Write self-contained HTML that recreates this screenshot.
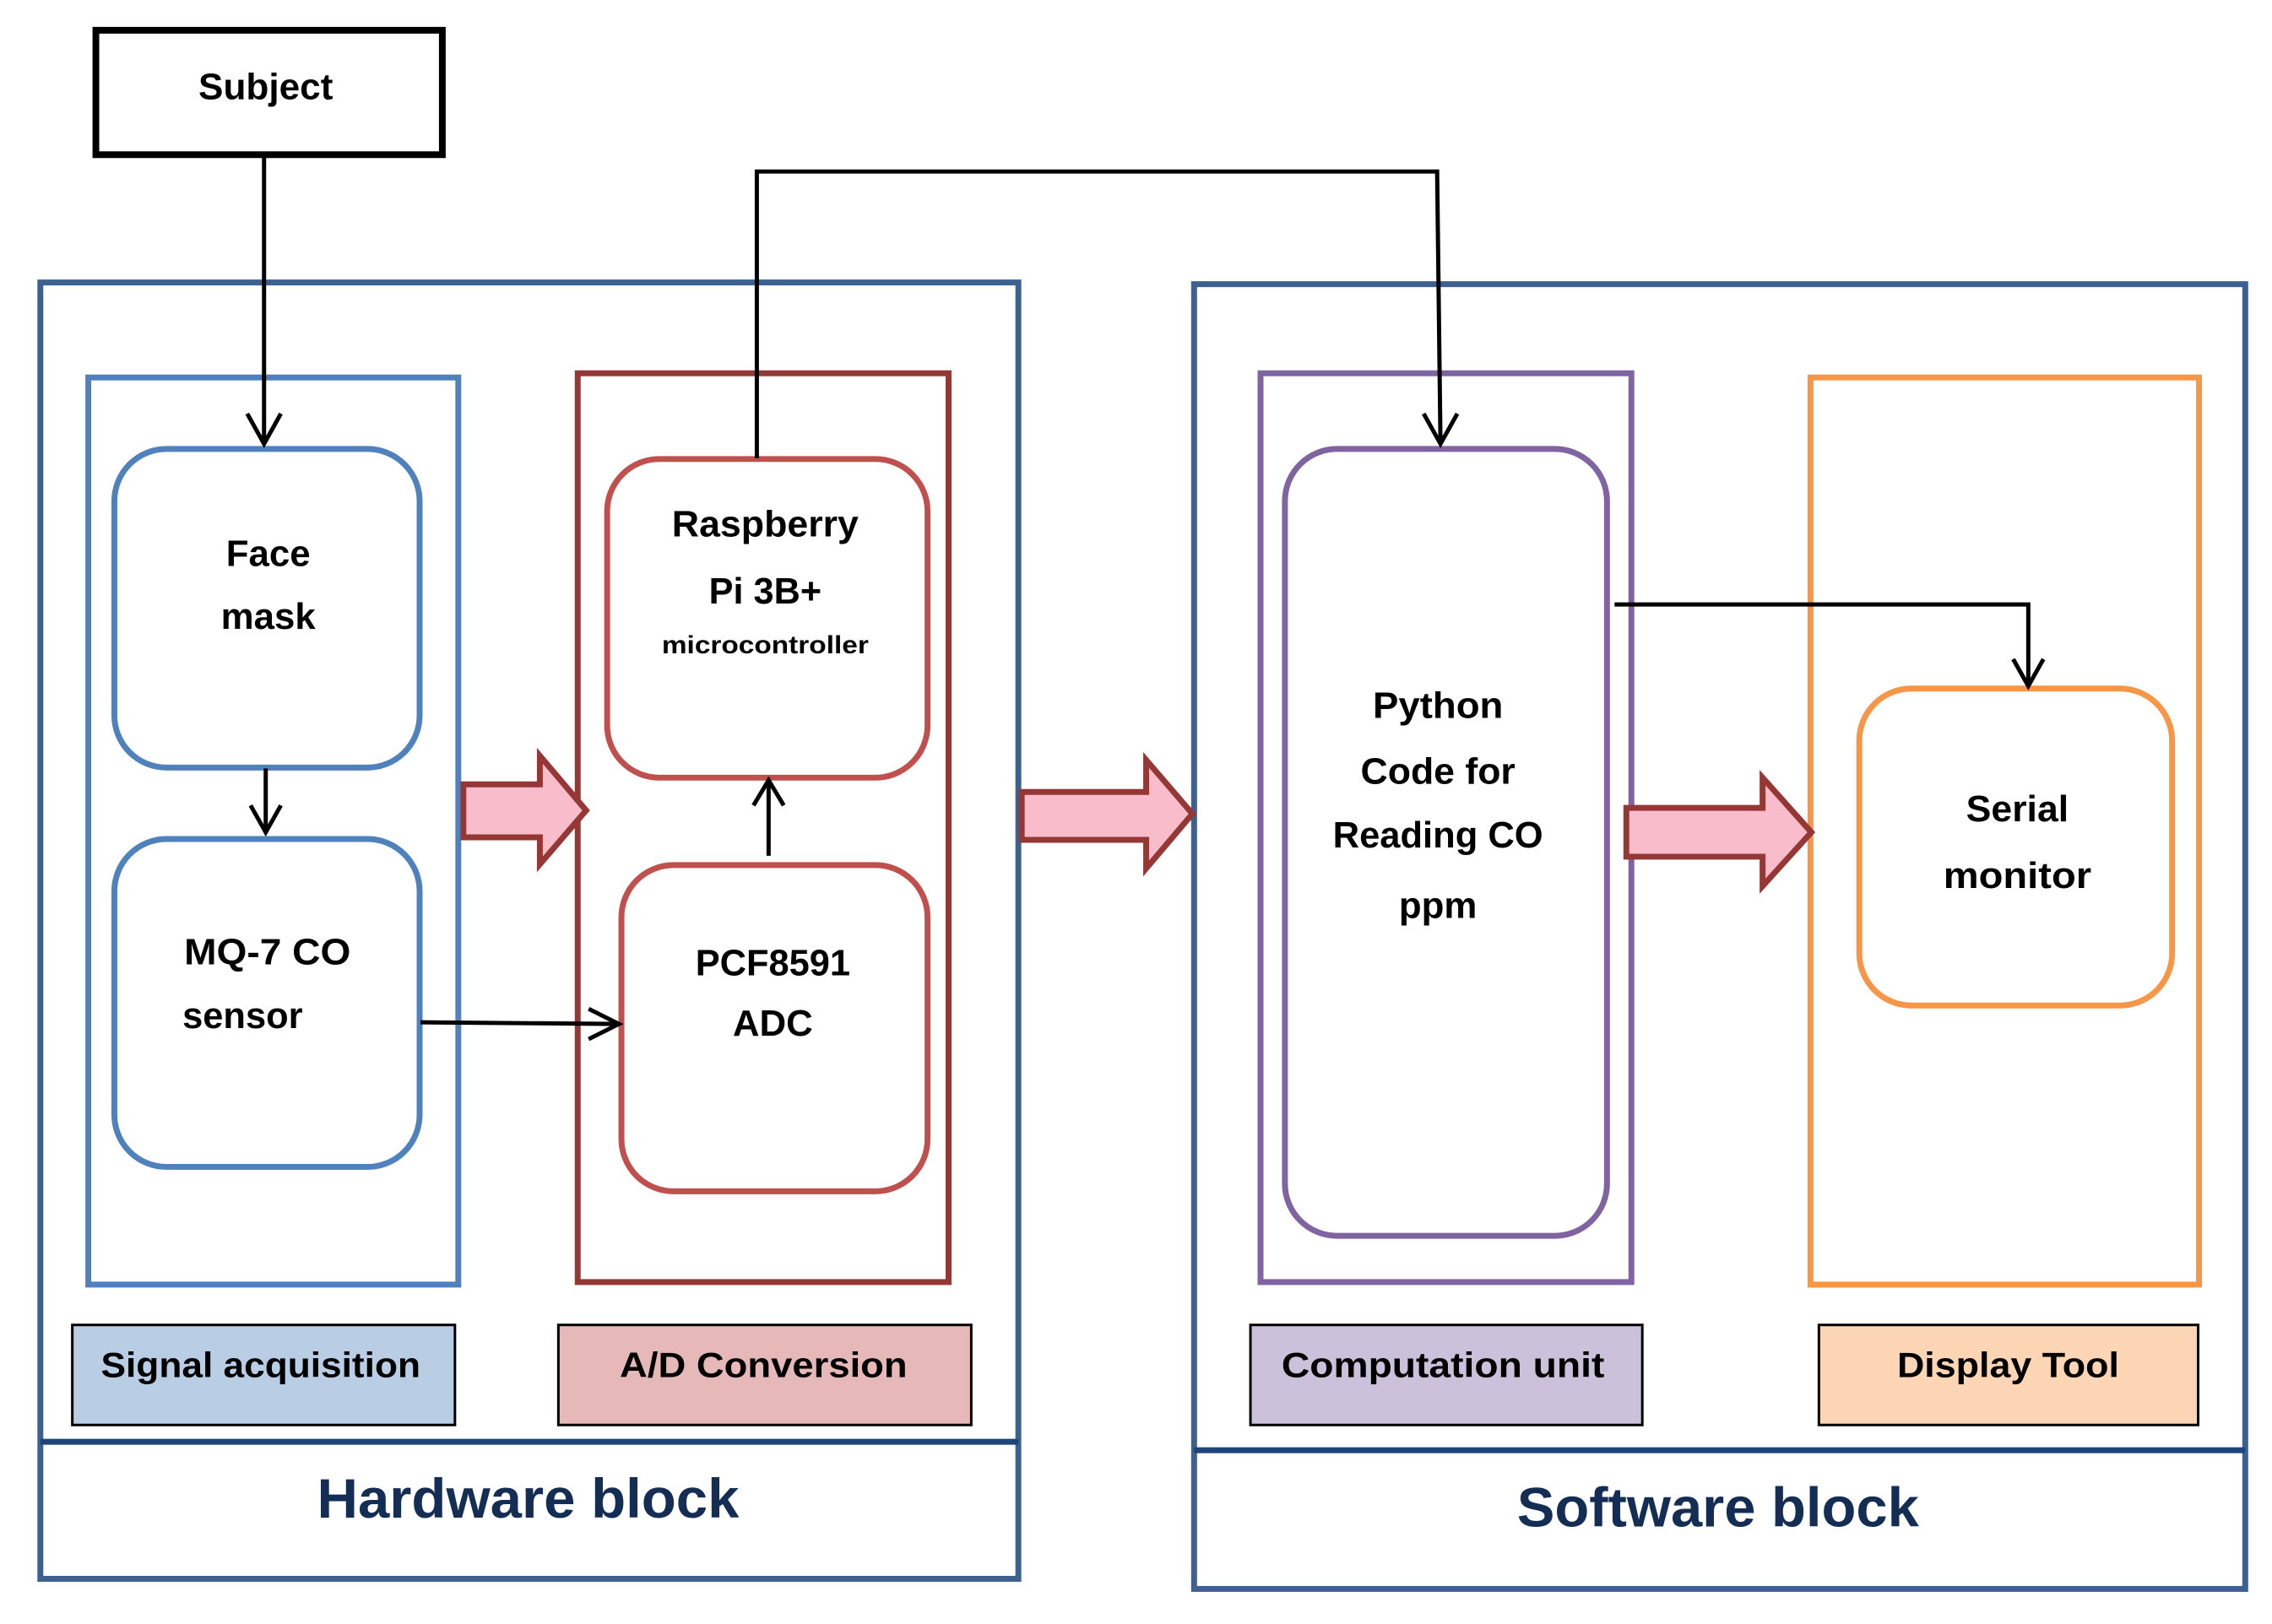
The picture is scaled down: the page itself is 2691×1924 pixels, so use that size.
<!DOCTYPE html>
<html><head><meta charset="utf-8"><style>
html,body{margin:0;padding:0;background:#fff;}
svg{display:block;}
text{font-family:"Liberation Sans",sans-serif;font-weight:bold;fill:#000;}
</style></head><body>
<svg width="2691" height="1924" viewBox="0 0 2691 1924" xmlns="http://www.w3.org/2000/svg">
<g transform="scale(0.996)">
<!-- Subject -->
<rect x="114" y="36" width="412" height="148" fill="#fff" stroke="#000" stroke-width="8"/>
<text x="316" y="118" font-size="44" text-anchor="middle" textLength="160" lengthAdjust="spacingAndGlyphs">Subject</text>

<!-- Hardware outer -->
<rect x="48" y="336" width="1163" height="1542" fill="none" stroke="#3c6090" stroke-width="7"/>
<line x1="48" y1="1715" x2="1211" y2="1715" stroke="#1f4478" stroke-width="7"/>
<text x="628" y="1805" font-size="66" text-anchor="middle" style="fill:#142d55" textLength="502" lengthAdjust="spacingAndGlyphs">Hardware block</text>

<!-- Software outer -->
<rect x="1420" y="338" width="1250" height="1552" fill="none" stroke="#3c6090" stroke-width="7"/>
<line x1="1420" y1="1725" x2="2670" y2="1725" stroke="#1f4478" stroke-width="7"/>
<text x="2043" y="1816" font-size="66" text-anchor="middle" style="fill:#142d55" textLength="478" lengthAdjust="spacingAndGlyphs">Software block</text>

<!-- Signal acquisition container -->
<rect x="105" y="449" width="440" height="1079" fill="none" stroke="#4f81bd" stroke-width="7"/>
<rect x="136" y="534" width="363" height="379" rx="62" fill="#fff" stroke="#4f81bd" stroke-width="7"/>
<rect x="136" y="998" width="363" height="390" rx="62" fill="#fff" stroke="#4f81bd" stroke-width="7"/>
<text x="319" y="673" font-size="44" text-anchor="middle">Face</text>
<text x="319" y="748" font-size="44" text-anchor="middle">mask</text>
<text x="318" y="1147" font-size="44" text-anchor="middle" textLength="198" lengthAdjust="spacingAndGlyphs">MQ-7 CO</text>
<text x="217" y="1223" font-size="44" textLength="143" lengthAdjust="spacingAndGlyphs">sensor</text>

<!-- A/D container -->
<rect x="687" y="444" width="441" height="1081" fill="none" stroke="#953735" stroke-width="7"/>
<rect x="722" y="546" width="381" height="379" rx="62" fill="#fff" stroke="#c0504d" stroke-width="7"/>
<rect x="739" y="1029" width="364" height="388" rx="62" fill="#fff" stroke="#c0504d" stroke-width="7"/>
<text x="910" y="638" font-size="44" text-anchor="middle" textLength="222" lengthAdjust="spacingAndGlyphs">Raspberry</text>
<text x="910" y="718" font-size="44" text-anchor="middle" textLength="134" lengthAdjust="spacingAndGlyphs">Pi 3B+</text>
<text x="910" y="777" font-size="30" text-anchor="middle" textLength="246" lengthAdjust="spacingAndGlyphs">microcontroller</text>
<text x="919" y="1160" font-size="44" text-anchor="middle" textLength="184" lengthAdjust="spacingAndGlyphs">PCF8591</text>
<text x="919" y="1232" font-size="44" text-anchor="middle">ADC</text>

<!-- Computation container -->
<rect x="1499" y="444" width="441" height="1081" fill="none" stroke="#8064a2" stroke-width="7"/>
<rect x="1528" y="534" width="383" height="936" rx="62" fill="#fff" stroke="#8064a2" stroke-width="7"/>
<text x="1710" y="854" font-size="44" text-anchor="middle" textLength="155" lengthAdjust="spacingAndGlyphs">Python</text>
<text x="1710" y="932" font-size="44" text-anchor="middle" textLength="184" lengthAdjust="spacingAndGlyphs">Code for</text>
<text x="1710" y="1008" font-size="44" text-anchor="middle" textLength="250" lengthAdjust="spacingAndGlyphs">Reading CO</text>
<text x="1710" y="1092" font-size="44" text-anchor="middle">ppm</text>

<!-- Display container -->
<rect x="2153" y="449" width="462" height="1079" fill="none" stroke="#f79646" stroke-width="7"/>
<rect x="2211" y="819" width="372" height="377" rx="62" fill="#fff" stroke="#f79646" stroke-width="7"/>
<text x="2399" y="977" font-size="44" text-anchor="middle" textLength="122" lengthAdjust="spacingAndGlyphs">Serial</text>
<text x="2399" y="1056" font-size="44" text-anchor="middle" textLength="176" lengthAdjust="spacingAndGlyphs">monitor</text>

<!-- Labels -->
<rect x="86" y="1576" width="455" height="119" fill="#b9cde5" stroke="#000" stroke-width="3"/>
<text x="310" y="1638" font-size="42" text-anchor="middle" textLength="380" lengthAdjust="spacingAndGlyphs">Signal acquisition</text>
<rect x="664" y="1576" width="491" height="119" fill="#e6b9b8" stroke="#000" stroke-width="3"/>
<text x="908" y="1638" font-size="42" text-anchor="middle" textLength="342" lengthAdjust="spacingAndGlyphs">A/D Conversion</text>
<rect x="1487" y="1576" width="466" height="119" fill="#ccc1da" stroke="#000" stroke-width="3"/>
<text x="1716" y="1638" font-size="42" text-anchor="middle" textLength="384" lengthAdjust="spacingAndGlyphs">Computation unit</text>
<rect x="2163" y="1576" width="451" height="119" fill="#fcd5b5" stroke="#000" stroke-width="3"/>
<text x="2388" y="1638" font-size="42" text-anchor="middle" textLength="264" lengthAdjust="spacingAndGlyphs">Display Tool</text>

<!-- Block arrows -->
<g fill="#f9bccb" stroke="#953735" stroke-width="7" stroke-linejoin="miter">
<polygon points="551,933 642,933 642,899 697,964 642,1028 642,996 551,996"/>
<polygon points="1215,942 1363,942 1363,904 1418,968 1363,1033 1363,999 1215,999"/>
<polygon points="1934,961 2096,961 2096,925 2154,990 2096,1054 2096,1019 1934,1019"/>
</g>

<!-- Connectors -->
<g stroke="#000" stroke-width="5" fill="none">
<line x1="314" y1="186" x2="314" y2="528"/>
<polyline points="294,492 314,528 334,492"/>
<line x1="316" y1="914" x2="316" y2="990"/>
<polyline points="298,958 316,990 334,958"/>
<line x1="500" y1="1216" x2="736" y2="1218"/>
<polyline points="700,1200 736,1218 700,1236"/>
<line x1="914" y1="1018" x2="914" y2="928"/>
<polyline points="896,958 914,928 932,958"/>
<polyline points="900,545 900,204 1709,204 1713,528"/>
<polyline points="1693,492 1713,528 1733,492"/>
<polyline points="1920,719 2412,719 2412,816"/>
<polyline points="2394,784 2412,816 2430,784"/>
</g>
</g>
</svg>
</body></html>
